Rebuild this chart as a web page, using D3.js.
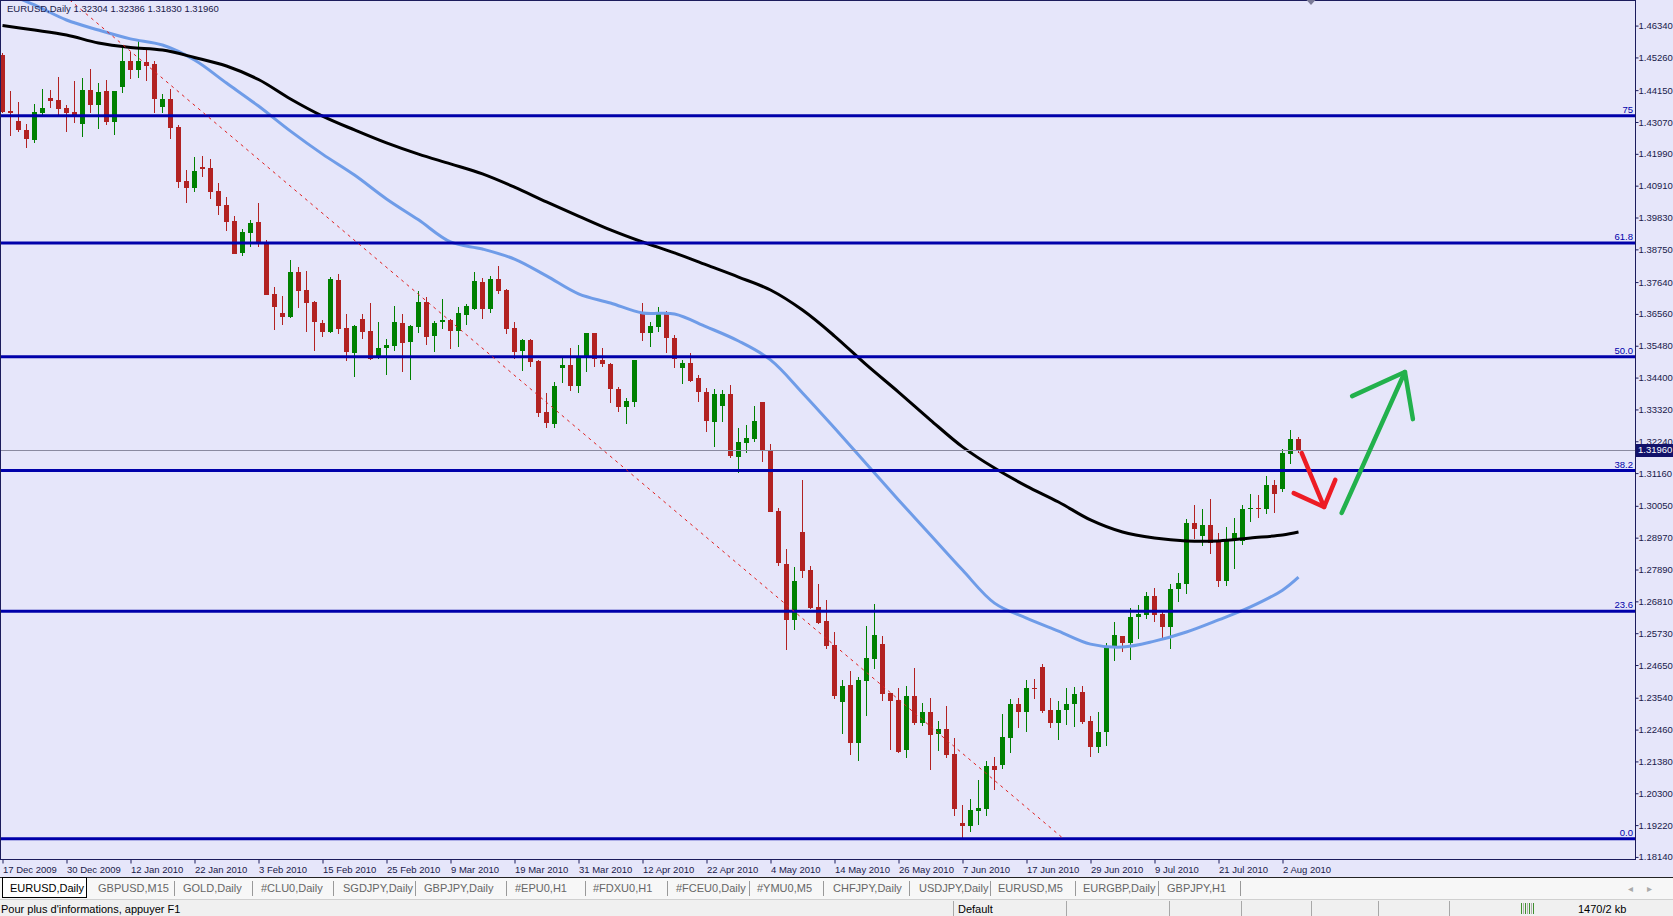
<!DOCTYPE html>
<html><head><meta charset="utf-8">
<script src="https://cdn.jsdelivr.net/npm/d3@7"></script>
<style>
html,body{margin:0;padding:0;background:#e6e6fa;overflow:hidden}
svg{display:block}
text{font-family:"Liberation Sans",Arial,sans-serif}
</style></head><body>
<svg id="c" width="1673" height="916"></svg>
<script>
// ---------------- DATA ----------------
const symbolName = "EURUSD,Daily";
const opens = [
1.4534,1.4343,1.4311,1.4280,1.4246,1.4336,1.4387,1.4382,1.4353,1.4340,
1.4300,1.4415,1.4365,1.4412,1.4308,1.4427,1.4514,1.4483,1.4510,1.4503,
1.4357,1.4385,1.4291,1.4107,1.4084,1.4155,1.4152,1.4073,1.4025,1.3972,
1.3862,1.3931,1.3969,1.3898,1.3723,1.3660,1.3645,1.3797,1.3737,1.3695,
1.3626,1.3596,1.3771,1.3607,1.3524,1.3638,1.3598,1.3505,1.3541,1.3548,
1.3624,1.3562,1.3613,1.3695,1.3581,1.3630,1.3635,1.3599,1.3652,1.3673,
1.3763,1.3672,1.3774,1.3737,1.3607,1.3530,1.3567,1.3496,1.3324,1.3283,
1.3472,1.3483,1.3411,1.3505,1.3592,1.3500,1.3486,1.3401,1.3341,1.3358,
1.3660,1.3592,1.3613,1.3655,1.3573,1.3472,1.3488,1.3438,1.3390,1.3290,
1.3345,1.3384,1.3172,1.3219,1.3232,1.3356,1.3194,1.2988,1.2808,1.2618,
1.2915,1.2787,1.2663,1.2614,1.2533,1.2341,1.2397,1.2202,1.2412,1.2485,
1.2536,1.2371,1.2346,1.2177,1.2360,1.2267,1.2305,1.2231,1.2247,1.2163,
1.1928,1.1919,1.1971,1.1977,1.2122,1.2126,1.2218,1.2333,1.2307,1.2388,
1.2459,1.2312,1.2267,1.2312,1.2333,1.2372,1.2275,1.2186,1.2237,1.2525,
1.2563,1.2539,1.2627,1.2635,1.2700,1.2638,1.2595,1.2722,1.2740,1.2948,
1.2904,1.2940,1.2881,1.2750,1.2889,1.2887,1.2993,1.2999,1.2993,1.3076,
1.3061,1.3180,1.32304];
const highs = [
1.4541,1.4412,1.4376,1.4299,1.4368,1.4418,1.4415,1.4461,1.4365,1.4446,
1.4457,1.4487,1.4438,1.4449,1.4412,1.4557,1.4545,1.4582,1.4557,1.4514,
1.4401,1.4418,1.4297,1.4144,1.4188,1.4193,1.4181,1.4100,1.4054,1.3988,
1.3943,1.3975,1.4031,1.3907,1.3748,1.3717,1.3839,1.3816,1.3802,1.3700,
1.3635,1.3782,1.3791,1.3656,1.3618,1.3656,1.3694,1.3628,1.3570,1.3683,
1.3656,1.3618,1.3735,1.3712,1.3632,1.3706,1.3639,1.3678,1.3689,1.3797,
1.3777,1.3785,1.3818,1.3739,1.3630,1.3571,1.3571,1.3500,1.3387,1.3426,
1.3505,1.3539,1.3551,1.3592,1.3592,1.3539,1.3488,1.3407,1.3370,1.3500,
1.3694,1.3630,1.3681,1.3667,1.3584,1.3500,1.3524,1.3449,1.3404,1.3400,
1.3398,1.3415,1.3270,1.3279,1.3344,1.3356,1.3215,1.2997,1.2858,1.2798,
1.3093,1.2801,1.2740,1.2685,1.2576,1.2414,1.2445,1.2423,1.2597,1.2672,
1.2563,1.2371,1.2388,1.2394,1.2454,1.2335,1.2352,1.2275,1.2326,1.2216,
1.1990,1.2010,1.2075,1.2140,1.2152,1.2299,1.2350,1.2354,1.2414,1.2418,
1.2467,1.2352,1.2343,1.2388,1.2391,1.2395,1.2292,1.2305,1.2539,1.2612,
1.2563,1.2659,1.2669,1.2712,1.2725,1.2646,1.2739,1.2776,1.2959,1.3008,
1.2994,1.3028,1.2912,1.2934,1.2965,1.3008,1.3045,1.3042,1.3106,1.3093,
1.3197,1.3262,1.32386];
const lows = [
1.4337,1.4259,1.4274,1.4218,1.4235,1.4323,1.4355,1.4331,1.4274,1.4305,
1.4257,1.4336,1.4283,1.4297,1.4263,1.4406,1.4452,1.4455,1.4446,1.4336,
1.4336,1.4249,1.4082,1.4031,1.4068,1.4120,1.4046,1.3991,1.3937,1.3859,
1.3853,1.3884,1.3884,1.3720,1.3601,1.3618,1.3641,1.3677,1.3596,1.3530,
1.3579,1.3590,1.3587,1.3497,1.3443,1.3570,1.3500,1.3502,1.3449,1.3531,
1.3460,1.3432,1.3592,1.3551,1.3528,1.3605,1.3537,1.3545,1.3618,1.3669,
1.3639,1.3658,1.3724,1.3587,1.3502,1.3463,1.3477,1.3305,1.3268,1.3268,
1.3421,1.3395,1.3387,1.3460,1.3475,1.3475,1.3355,1.3324,1.3282,1.3341,
1.3565,1.3545,1.3596,1.3522,1.3472,1.3417,1.3426,1.3358,1.3256,1.3203,
1.3290,1.3166,1.3115,1.3183,1.3222,1.3155,1.2985,1.2802,1.2516,1.2584,
1.2759,1.2655,1.2604,1.2518,1.2350,1.2231,1.2160,1.2140,1.2293,1.2451,
1.2344,1.2177,1.2165,1.2151,1.2262,1.2259,1.2109,1.2173,1.2151,1.1954,
1.1877,1.1899,1.1922,1.1954,1.2041,1.2112,1.2168,1.2252,1.2239,1.2350,
1.2303,1.2250,1.2210,1.2262,1.2256,1.2264,1.2154,1.2165,1.2191,1.2480,
1.2508,1.2482,1.2553,1.2620,1.2610,1.2550,1.2519,1.2680,1.2706,1.2892,
1.2870,1.2841,1.2731,1.2734,1.2791,1.2872,1.2951,1.2965,1.2976,1.2980,
1.3053,1.3146,1.31830];
const closes = [
1.4341,1.4337,1.4280,1.4248,1.4342,1.4353,1.4379,1.4351,1.4338,1.4328,
1.4415,1.4365,1.4410,1.4308,1.4412,1.4514,1.4483,1.4514,1.4498,1.4385,
1.4385,1.4288,1.4104,1.4084,1.4141,1.4149,1.4071,1.4023,1.3969,1.3859,
1.3935,1.3965,1.3893,1.3720,1.3678,1.3647,1.3798,1.3734,1.3692,1.3630,
1.3596,1.3774,1.3604,1.3528,1.3615,1.3596,1.3503,1.3539,1.3550,1.3628,
1.3558,1.3615,1.3695,1.3579,1.3624,1.3635,1.3599,1.3658,1.3683,1.3768,
1.3673,1.3774,1.3734,1.3605,1.3528,1.3567,1.3494,1.3321,1.3287,1.3411,
1.3483,1.3411,1.3509,1.3592,1.3502,1.3485,1.3400,1.3341,1.3362,1.3500,
1.3590,1.3615,1.3655,1.3573,1.3502,1.3488,1.3429,1.3390,1.3294,1.3384,
1.3384,1.3175,1.3221,1.3234,1.3293,1.3192,1.2985,1.2810,1.2618,1.2750,
1.2784,1.2659,1.2609,1.2530,1.2360,1.2394,1.2202,1.2414,1.2488,1.2567,
1.2367,1.2343,1.2171,1.2360,1.2267,1.2305,1.2228,1.2247,1.2160,1.1977,
1.1919,1.1973,1.1979,1.2122,1.2109,1.2220,1.2333,1.2307,1.2388,1.2384,
1.2309,1.2269,1.2312,1.2333,1.2366,1.2271,1.2186,1.2237,1.2525,1.2567,
1.2539,1.2629,1.2638,1.2700,1.2635,1.2595,1.2723,1.2744,1.2948,1.2926,
1.2940,1.2880,1.2750,1.2893,1.2914,1.2994,1.2999,1.2993,1.3076,1.3045,
1.3183,1.3232,1.31960];

const maBars = [0,4,8,12,16,20,24,28,32,36,40,44,48,52,56,60,64,68,72,76,80,84,88,92,96,100,104,108,112,116,120,124,128,132,136,140,144,148,152,156,160,162];
const maSlow = [1.4634,1.4619,1.4602,1.4575,1.4560,1.4551,1.4526,1.4497,1.4451,1.4385,1.4327,1.4280,1.4236,1.4198,1.4165,1.4131,1.4086,1.4036,1.3988,1.3941,1.3900,1.3863,1.3822,1.3781,1.3737,1.3669,1.3581,1.3483,1.3391,1.3296,1.3205,1.3133,1.3072,1.3018,1.2957,1.2916,1.2896,1.2886,1.2886,1.2896,1.2906,1.2916];
const maFast = [1.4748,1.4704,1.4653,1.4619,1.4589,1.4568,1.4517,1.4439,1.4361,1.4276,1.4198,1.4127,1.4046,1.3975,1.3900,1.3876,1.3842,1.3785,1.3724,1.3693,1.3659,1.3656,1.3612,1.3564,1.3500,1.3388,1.3269,1.3147,1.3025,1.2906,1.2787,1.2675,1.2624,1.2580,1.2536,1.2526,1.2546,1.2577,1.2618,1.2662,1.2719,1.2763];

// Fibonacci retracement
const fibLow = 1.1876, fibHigh = 1.5145;
const fibLevels = [0, 23.6, 38.2, 50, 61.8, 75];
const fibLabels = ["0.0", "23.6", "38.2", "50.0", "61.8", "75"];

// trend line (bar index, price)
const trendBars = [8.4, 132.4];
const trendPrices = [1.4721, 1.1881];

// hand-drawn arrows (bar index, price)
const redArrowBars = [162.4, 165.2], redArrowPrices = [1.3184, 1.3001];
const redHeadBars = [161.4, 165.2, 166.6], redHeadPrices = [1.3048, 1.3001, 1.3093];
const greenArrowBars = [167.4, 175.3], greenArrowPrices = [1.2981, 1.3459];
const greenHeadBars = [168.7, 175.3, 176.3], greenHeadPrices = [1.3377, 1.3459, 1.3299];

// axis labels
const priceTicks = ["1.46340","1.45260","1.44150","1.43070","1.41990","1.40910","1.39830","1.38750","1.37640","1.36560","1.35480","1.34400","1.33320","1.32240","1.31160","1.30050","1.28970","1.27890","1.26810","1.25730","1.24650","1.23540","1.22460","1.21380","1.20300","1.19220","1.18140"];
const dateLabels = ["17 Dec 2009","30 Dec 2009","12 Jan 2010","22 Jan 2010","3 Feb 2010","15 Feb 2010","25 Feb 2010","9 Mar 2010","19 Mar 2010","31 Mar 2010","12 Apr 2010","22 Apr 2010","4 May 2010","14 May 2010","26 May 2010","7 Jun 2010","17 Jun 2010","29 Jun 2010","9 Jul 2010","21 Jul 2010","2 Aug 2010"];
const barsPerLabel = 8;

const tabNames = ["EURUSD,Daily","GBPUSD,M15","GOLD,Daily","#CLU0,Daily","SGDJPY,Daily","GBPJPY,Daily","#EPU0,H1","#FDXU0,H1","#FCEU0,Daily","#YMU0,M5","CHFJPY,Daily","USDJPY,Daily","EURUSD,M5","EURGBP,Daily","GBPJPY,H1"];
const statusLeft = "Pour plus d'informations, appuyer F1";
const statusProfile = "Default";
const statusTraffic = "1470/2 kb";

// ---------------- LAYOUT ----------------
const W = 1673, H = 916;
const plotRight = 1635, plotBottom = 859;
const tabTextX = [10, 98, 183, 261, 343, 424, 515, 593, 676, 757, 833, 919, 998, 1083, 1167];
const tabSepX = [174, 252, 333, 415, 506, 585, 667, 749, 823, 909, 990, 1075, 1158, 1240];
const statusSepX = [953, 1066, 1169, 1241, 1311, 1378, 1449];
const bull = "#008000", bear = "#b22222";
const axisColor = "#1c1c5c";
const textColor = "#1a1a4a";
const smallFont = 9.5;

const x = d3.scaleLinear().domain([0, 1]).range([2.5, 10.5]);
const y = d3.scaleLinear().domain([1.18070, 1.47208]).range([plotBottom, 0]);

const svg = d3.select("#c");
svg.append("rect").attr("width", W).attr("height", 877).attr("fill", "#e6e6fa");

const defs = svg.append("defs");
defs.append("clipPath").attr("id", "plot").append("rect")
  .attr("x", 0).attr("y", 0).attr("width", plotRight).attr("height", plotBottom);

const g = svg.append("g").attr("clip-path", "url(#plot)");

// candles
const bars = d3.range(opens.length).map(i => ({i, o: opens[i], h: highs[i], l: lows[i], c: closes[i]}));
const cg = g.append("g").attr("shape-rendering", "crispEdges");
cg.selectAll("line.wick").data(bars).join("line").attr("class", "wick")
  .attr("x1", d => x(d.i)).attr("x2", d => x(d.i))
  .attr("y1", d => y(d.h)).attr("y2", d => y(d.l))
  .attr("stroke", d => d.c >= d.o ? bull : bear).attr("stroke-width", 1);
cg.selectAll("rect.body").data(bars).join("rect").attr("class", "body")
  .attr("x", d => x(d.i) - 2.5).attr("width", 5)
  .attr("y", d => y(Math.max(d.o, d.c)))
  .attr("height", d => Math.max(1, Math.abs(y(d.o) - y(d.c))))
  .attr("fill", d => d.c >= d.o ? bull : bear);

// moving averages
const maLine = vals => d3.line().curve(d3.curveCatmullRom)
  .x((d, k) => x(maBars[k])).y(d => y(d))(vals);
g.append("path").attr("d", maLine(maFast)).attr("fill", "none")
  .attr("stroke", "#6f9ce8").attr("stroke-width", 3);
g.append("path").attr("d", maLine(maSlow)).attr("fill", "none")
  .attr("stroke", "#000").attr("stroke-width", 3);

// current price line
const last = bars[bars.length - 1];
g.append("line").attr("x1", 0).attr("x2", plotRight)
  .attr("y1", Math.round(y(last.c)) + 0.5).attr("y2", Math.round(y(last.c)) + 0.5)
  .attr("stroke", "#8a8aa0").attr("stroke-width", 1);

// fibonacci levels
const fibPrice = lv => fibLow + lv / 100 * (fibHigh - fibLow);
g.selectAll("line.fib").data(fibLevels).join("line").attr("class", "fib")
  .attr("x1", 0).attr("x2", plotRight)
  .attr("y1", d => y(fibPrice(d))).attr("y2", d => y(fibPrice(d)))
  .attr("stroke", "#0000aa").attr("stroke-width", 3);
svg.selectAll("text.fib").data(fibLevels).join("text").attr("class", "fib")
  .attr("x", plotRight - 2).attr("y", d => y(fibPrice(d)) - 3)
  .attr("text-anchor", "end").attr("font-size", smallFont).attr("fill", "#0000aa")
  .text((d, k) => fibLabels[k]);

// trend line
g.append("line")
  .attr("x1", x(trendBars[0])).attr("y1", y(trendPrices[0]))
  .attr("x2", x(trendBars[1])).attr("y2", y(trendPrices[1]))
  .attr("stroke", "#e02020").attr("stroke-width", 1).attr("stroke-dasharray", "3,4");

// frame
const fr = svg.append("g").attr("shape-rendering", "crispEdges");
fr.append("line").attr("x1", 0.5).attr("x2", 0.5).attr("y1", 0).attr("y2", plotBottom).attr("stroke", axisColor);
fr.append("line").attr("x1", 0).attr("x2", plotRight).attr("y1", 0.5).attr("y2", 0.5).attr("stroke", axisColor);

// price axis
const yAxis = d3.axisRight(y).tickValues(priceTicks.map(Number))
  .tickFormat((d, k) => priceTicks[k]).tickSize(3).tickSizeOuter(0).tickPadding(0);
const ya = svg.append("g").attr("transform", `translate(${plotRight + 0.5},0)`).call(yAxis);
ya.select(".domain").attr("stroke", axisColor).attr("d", `M0,0V${plotBottom}`);
ya.selectAll(".tick line").attr("stroke", axisColor);
ya.selectAll(".tick text").attr("fill", textColor).attr("font-size", smallFont)
  .attr("font-family", "Liberation Sans, Arial, sans-serif");

// time axis
const labelBars = dateLabels.map((d, k) => k * barsPerLabel);
const xAxis = d3.axisBottom(x).tickValues(labelBars)
  .tickFormat((d, k) => dateLabels[k]).tickSize(4).tickSizeOuter(0).tickPadding(3);
const xa = svg.append("g").attr("transform", `translate(0,${plotBottom + 0.5})`).call(xAxis);
xa.select(".domain").attr("stroke", axisColor).attr("d", `M0,0H${plotRight + 1}`);
xa.selectAll(".tick line").attr("stroke", axisColor);
xa.selectAll(".tick text").attr("fill", textColor).attr("font-size", smallFont)
  .attr("text-anchor", "start").attr("x", 0)
  .attr("font-family", "Liberation Sans, Arial, sans-serif");

// current price box
const py = y(last.c);
svg.append("rect").attr("x", plotRight + 1).attr("y", Math.round(py) - 6)
  .attr("width", W - plotRight - 1).attr("height", 13).attr("fill", "#12126a");
svg.append("text").attr("x", plotRight + 3).attr("y", py).attr("dy", "0.35em")
  .attr("font-size", smallFont).attr("fill", "#fff").text(d3.format(".5f")(last.c));

// chart shift marker
svg.append("path").attr("d", `M${x(163)},0l9,0l-4.5,5z`).attr("fill", "#7a7a96");

// header
svg.append("text").attr("x", 7).attr("y", 12).attr("font-size", smallFont).attr("fill", textColor)
  .text(`${symbolName}  ${[last.o, last.h, last.l, last.c].map(d3.format(".5f")).join(" ")}`);

// arrows
const arrowPath = (bs, ps) => d3.line().x((d, k) => x(bs[k])).y(d => y(d))(ps);
const ag = svg.append("g").attr("fill", "none").attr("stroke-linecap", "round").attr("stroke-linejoin", "round");
ag.append("path").attr("d", arrowPath(redArrowBars, redArrowPrices)).attr("stroke", "#ed1c24").attr("stroke-width", 4.5);
ag.append("path").attr("d", arrowPath(redHeadBars, redHeadPrices)).attr("stroke", "#ed1c24").attr("stroke-width", 4.5);
ag.append("path").attr("d", arrowPath(greenArrowBars, greenArrowPrices)).attr("stroke", "#22b14c").attr("stroke-width", 4.5);
ag.append("path").attr("d", arrowPath(greenHeadBars, greenHeadPrices)).attr("stroke", "#22b14c").attr("stroke-width", 4.5);

// ---------------- TAB BAR ----------------
const tb = svg.append("g");
tb.append("rect").attr("x", 0).attr("y", 877).attr("width", W).attr("height", 22).attr("fill", "#f7f7f7");
tb.append("line").attr("x1", 0).attr("x2", W).attr("y1", 877.5).attr("y2", 877.5).attr("stroke", "#222");
tb.append("rect").attr("x", 2.5).attr("y", 877.5).attr("width", 84).attr("height", 20)
  .attr("fill", "#fff").attr("stroke", "#000");
tb.selectAll("text.tab").data(tabNames).join("text").attr("class", "tab")
  .attr("x", (d, k) => tabTextX[k]).attr("y", 892).attr("font-size", 11)
  .attr("fill", (d, k) => k === 0 ? "#000" : "#666").text(d => d);
tb.selectAll("line.sep").data(tabSepX).join("line").attr("class", "sep")
  .attr("x1", d => d + 0.5).attr("x2", d => d + 0.5).attr("y1", 881).attr("y2", 896)
  .attr("stroke", "#999");
tb.append("text").attr("x", 1628).attr("y", 892).attr("font-size", 10).attr("fill", "#aaa").text("◂");
tb.append("text").attr("x", 1647).attr("y", 892).attr("font-size", 10).attr("fill", "#aaa").text("▸");

// ---------------- STATUS BAR ----------------
const sb = svg.append("g");
sb.append("rect").attr("x", 0).attr("y", 899).attr("width", W).attr("height", 17).attr("fill", "#f0f0f0");
sb.append("line").attr("x1", 0).attr("x2", W).attr("y1", 899.5).attr("y2", 899.5).attr("stroke", "#d0d0d0");
sb.append("text").attr("x", 1).attr("y", 913).attr("font-size", 11).attr("fill", "#000").text(statusLeft);
sb.selectAll("line.ss").data(statusSepX).join("line").attr("class", "ss")
  .attr("x1", d => d + 0.5).attr("x2", d => d + 0.5).attr("y1", 901).attr("y2", 916).attr("stroke", "#a8a8a8");
sb.append("text").attr("x", 958).attr("y", 913).attr("font-size", 11).attr("fill", "#000").text(statusProfile);
const icon = sb.append("g").attr("shape-rendering", "crispEdges");
d3.range(7).forEach(k => {
  icon.append("rect").attr("x", 1521 + k * 2).attr("y", 903).attr("width", 1).attr("height", 11)
    .attr("fill", k % 2 ? "#b0b0b0" : "#3f8f2f");
});
sb.append("text").attr("x", 1578).attr("y", 913).attr("font-size", 11).attr("fill", "#000").text(statusTraffic);
</script>
</body></html>
